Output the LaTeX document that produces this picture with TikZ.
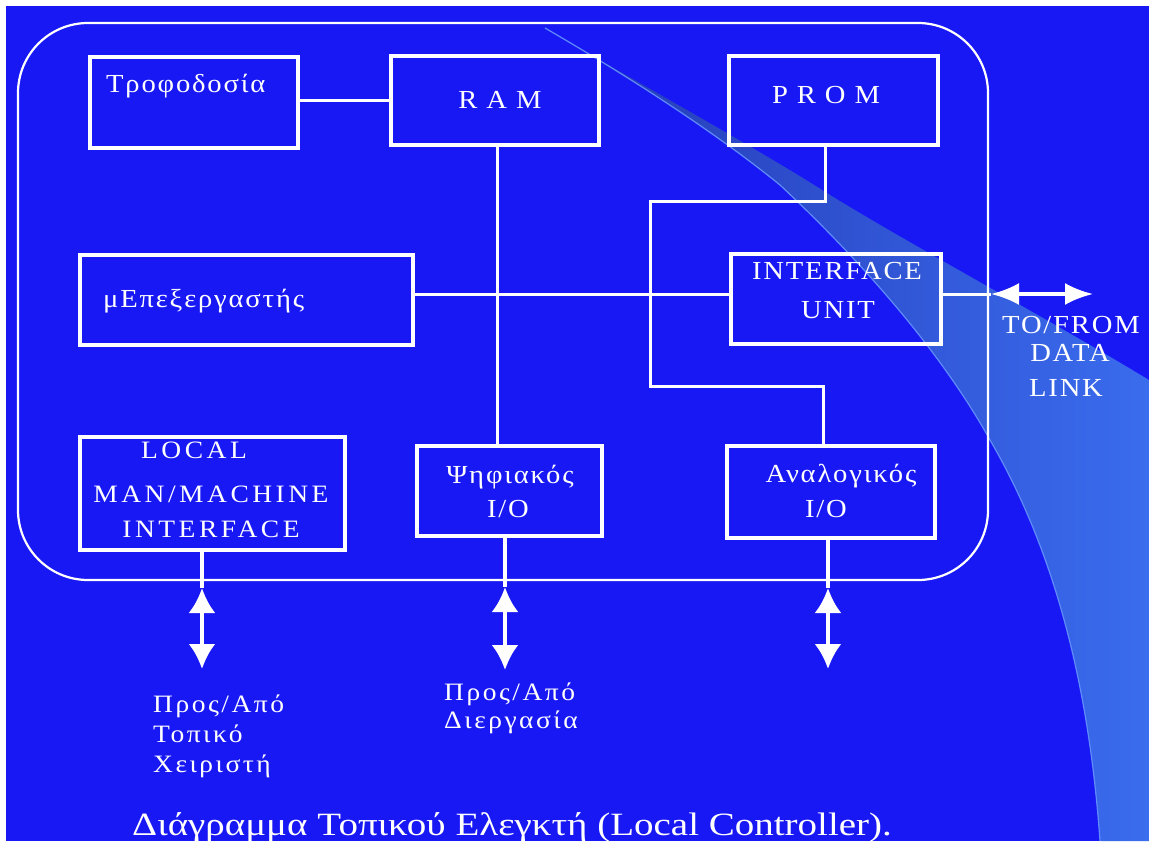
\documentclass[tikz,border=0pt]{standalone}
\usepackage{fontspec}
\setmainfont{Liberation Serif}
\newfontfamily\boxfont[FakeStretch=1.1,LetterSpace=7]{Liberation Serif}
\newfontfamily\mmifont[FakeStretch=1.1,LetterSpace=14]{Liberation Serif}
\newfontfamily\endfont[FakeStretch=1.1,LetterSpace=10]{Liberation Serif}
\newfontfamily\titlefont[FakeStretch=1.2]{Liberation Serif}
\usetikzlibrary{arrows.meta,calc}

\definecolor{panel}{RGB}{24,24,245}
\definecolor{swdark}{RGB}{36,56,180}
\definecolor{swlight}{RGB}{58,108,238}
\definecolor{swedge}{RGB}{95,140,250}

\begin{document}
\begin{tikzpicture}[x=1pt,y=-1pt,
  unitbox/.style={draw=white,line width=4pt,inner sep=0pt,rectangle},
  frame/.style={draw=white,line width=2.2pt,rounded corners=70pt,inner sep=0pt},
  bus/.style={draw=white,line width=3pt},
  iobus/.style={draw=white,line width=4pt},
  ioarrow/.style={draw=white,line width=4pt,{Latex[length=25pt,width=27pt]}-{Latex[length=25pt,width=27pt]}},
  linkarrow/.style={draw=white,line width=3.5pt,{Latex[length=28pt,width=22pt]}-{Latex[length=28pt,width=22pt]}},
  lbl/.style={text=white,inner sep=0pt,anchor=base,font=\boxfont\fontsize{26}{30}\selectfont},
  lblw/.style={lbl,anchor=base west},
  lblm/.style={lbl,font=\mmifont\fontsize{25}{29}\selectfont},
  lblb/.style={lblw,font=\endfont\fontsize{25}{29}\selectfont},
  caption/.style={text=white,inner sep=0pt,anchor=base west,font=\titlefont\fontsize{32.5}{36}\selectfont}]

% page and background
\useasboundingbox (0,0) rectangle (1149,841);
\fill[white] (0,0) rectangle (1149,841);
\fill[panel] (6,6) rectangle (1149,841);

% light swoosh on the right
\shade[left color=swdark,right color=swlight]
  (545,28) .. controls (650,90) and (760,150) .. (830,195)
  .. controls (920,250) and (1050,320) .. (1149,380)
  -- (1149,841) -- (1100,841)
  .. controls (1090,700) and (1060,560) .. (990,440)
  .. controls (940,350) and (860,260) .. (780,185)
  .. controls (700,120) and (600,60) .. (545,28) -- cycle;
\draw[swedge,line width=1.2pt]
  (1100,841) .. controls (1090,700) and (1060,560) .. (990,440)
  .. controls (940,350) and (860,260) .. (780,185)
  .. controls (700,120) and (600,60) .. (545,28);

% controller enclosure
\node[frame,minimum width=970pt,minimum height=557pt] (ctrl) at (503,301.5) {};

% functional blocks
\node[unitbox,minimum width=208pt,minimum height=91pt] (pwr)   at (194,102.5) {};
\node[unitbox,minimum width=208pt,minimum height=89pt] (ram)   at (494.5,100.5) {};
\node[unitbox,minimum width=209pt,minimum height=89pt] (prom)  at (833.5,100.5) {};
\node[unitbox,minimum width=333pt,minimum height=90pt] (cpu)   at (246.5,300) {};
\node[unitbox,minimum width=210pt,minimum height=90pt] (iface) at (836,299) {};
\node[unitbox,minimum width=265pt,minimum height=113pt] (mmi)  at (212.5,493.5) {};
\node[unitbox,minimum width=185pt,minimum height=90pt] (dio)   at (509.5,491) {};
\node[unitbox,minimum width=208pt,minimum height=92pt] (aio)   at (831,492) {};

% block texts
\node[lblw] (tpwr) at (106,92) {Τροφοδοσία};
\node[lbl] (tram) at (500,108) {R A M};
\node[lbl] (tprom) at (826,103) {P R O M};
\node[lblw] (tcpu) at (103,307) {μΕπεξεργαστής};
\node[lbl] (tif1) at (837,279) {INTERFACE};
\node[lbl] (tif2) at (838,318) {UNIT};
\node[lblm] (tmm1) at (194,458) {LOCAL};
\node[lblm] (tmm2) at (211,502) {MAN/MACHINE};
\node[lblm] (tmm3) at (211,537) {INTERFACE};
\node[lbl] (tdio1) at (510,483) {Ψηφιακός};
\node[lbl] (tdio2) at (508,517) {I/O};
\node[lbl] (taio1) at (841,482) {Αναλογικός};
\node[lbl] (taio2) at (826,517) {I/O};

% internal buses
\draw[bus] (ram.west) -- (ram.west -| pwr.east);
\draw[bus] ([xshift=2.5pt]ram.south) -- ([xshift=2.5pt]ram.south |- dio.north);
\draw[bus] ([yshift=6pt]cpu.east) -- ([yshift=6pt]cpu.east -| iface.west);
\coordinate (pj1) at (650,201);
\coordinate (pj2) at (650,386);
\draw[bus] ([xshift=-8.5pt]prom.south) |- (pj1) -- (pj2) -| ([xshift=-8pt]aio.north);

% data link
\coordinate (dlL) at (991,294);
\coordinate (dlR) at (1093,294);
\draw[bus] ([yshift=5pt]iface.east) -- (dlL);
\draw[linkarrow] (dlL) -- (dlR);
\node[lbl] (tdl1) at (1071,333) {TO/FROM};
\node[lbl] (tdl2) at (1070,361) {DATA};
\node[lbl] (tdl3) at (1066,396) {LINK};

% external I/O arrows
\coordinate (mmiup) at (202,588);
\coordinate (mmidn) at (202,669);
\coordinate (dioup) at (505,587);
\coordinate (diodn) at (505,670);
\coordinate (aioup) at (828,588);
\coordinate (aiodn) at (828,669);
\draw[iobus] ([xshift=-10.5pt]mmi.south) -- (mmiup);
\draw[ioarrow] (mmiup) -- (mmidn);
\draw[iobus] ([xshift=-4.5pt]dio.south) -- (dioup);
\draw[ioarrow] (dioup) -- (diodn);
\draw[iobus] ([xshift=-3pt]aio.south) -- (aioup);
\draw[ioarrow] (aioup) -- (aiodn);

% external endpoints
\node[lblb] (top1) at (153,712) {Προς/Από};
\node[lblb] (top2) at (153,742) {Τοπικό};
\node[lblb] (top3) at (153,772) {Χειριστή};
\node[lblb] (proc1) at (444,700) {Προς/Από};
\node[lblb] (proc2) at (444,728) {Διεργασία};

% caption
\node[caption] (title) at (132,835) {Διάγραμμα Τοπικού Ελεγκτή (Local Controller).};
\end{tikzpicture}
\end{document}
